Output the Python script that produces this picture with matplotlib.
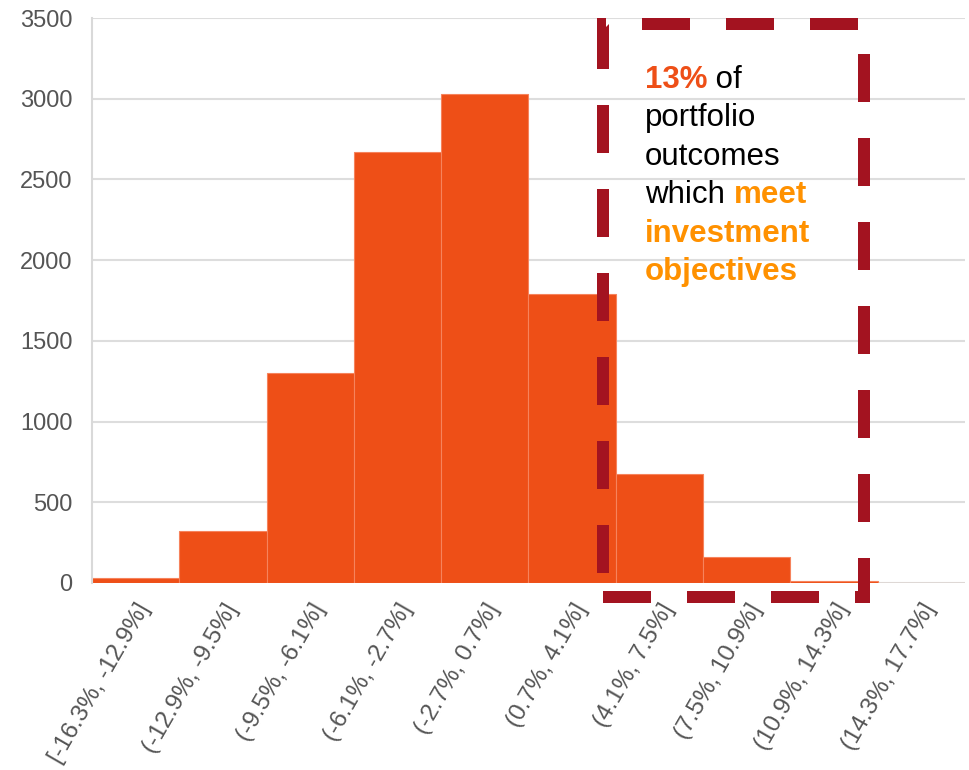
import matplotlib.pyplot as plt

plt.rcParams['font.family'] = ['Liberation Sans', 'DejaVu Sans']

bins = ['[-16.3%, -12.9%]', '(-12.9%, -9.5%]', '(-9.5%, -6.1%]', '(-6.1%, -2.7%]',
        '(-2.7%, 0.7%]', '(0.7%, 4.1%]', '(4.1%, 7.5%]', '(7.5%, 10.9%]',
        '(10.9%, 14.3%]', '(14.3%, 17.7%]']
counts = [31, 322, 1302, 2672, 3030, 1792, 676, 162, 12, 0]

bar_color = '#EE4F17'
box_color = '#A31320'
hi_color = '#FF9100'

fig = plt.figure(figsize=(9.7, 7.7), dpi=100)
ax = fig.add_axes([0.0948, 0.2429, 0.9, 0.7337])

x = list(range(len(bins)))
ax.bar(x, counts, width=1.0, color=bar_color, edgecolor='#F6835C', linewidth=0.8, zorder=2)

ax.set_xlim(-0.5, 9.5)
ax.set_ylim(0, 3500)
ax.set_yticks(range(0, 3501, 500))
ax.yaxis.grid(True, color='#DDDDDD', linewidth=1.5, zorder=0)
ax.set_axisbelow(True)
for s in ['top', 'right', 'bottom']:
    ax.spines[s].set_visible(False)
ax.spines['left'].set_color('#D9D9D9')
ax.spines['left'].set_linewidth(1.5)
ax.tick_params(axis='both', length=0, labelsize=17, labelcolor='#555555')
ax.tick_params(axis='y', pad=14)
ax.set_xticks(x)
ax.set_xticklabels(bins, rotation=60, ha='right', va='top', rotation_mode='anchor',
                   fontsize=17.5)
ax.tick_params(axis='x', pad=12)

# dashed box around the top tail
bx0, bx1 = 5.353, 8.343
by0, by1 = -87, 3462
ax.plot([bx0, bx1, bx1, bx0, bx0], [by0, by0, by1, by1, by0], color=box_color,
        linewidth=8.64, linestyle=(0, (4, 3)), dash_joinstyle='miter',
        clip_on=False, zorder=3)

# annotation text
fs = 22.5
tx = 645 / 970
def fy(px):
    return 1 - px / 770

t1 = fig.text(tx, fy(88), '13%', color=bar_color, fontsize=fs, fontweight='bold', va='baseline')
ax.annotate(' of', xy=(1, 0), xycoords=t1, color='black', fontsize=fs, va='bottom')
fig.text(tx, fy(126), 'portfolio', color='black', fontsize=fs, va='baseline')
fig.text(tx, fy(165), 'outcomes', color='black', fontsize=fs, va='baseline')
t4 = fig.text(tx, fy(203), 'which ', color='black', fontsize=fs, va='baseline')
ax.annotate('meet', xy=(1, 0), xycoords=t4, color=hi_color, fontsize=fs,
            fontweight='bold', va='bottom')
fig.text(tx, fy(242), 'investment', color=hi_color, fontsize=fs, fontweight='bold', va='baseline')
fig.text(tx, fy(280), 'objectives', color=hi_color, fontsize=fs, fontweight='bold', va='baseline')

fig.savefig('out.png', dpi=100)
